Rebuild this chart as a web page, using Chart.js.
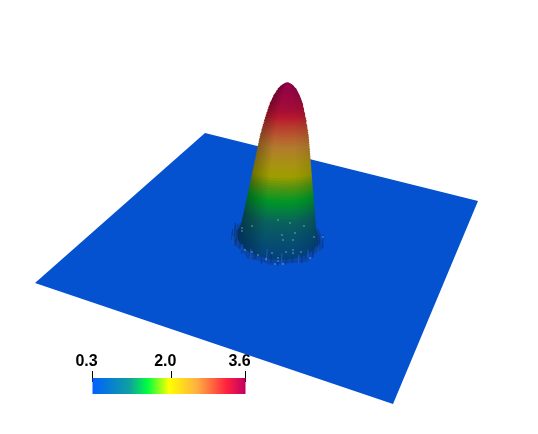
<!DOCTYPE html>
<html>
<head>
<meta charset="utf-8">
<style>
  html, body { margin: 0; padding: 0; background: #fff; }
  canvas { display: block; }
</style>
<script src="https://cdn.jsdelivr.net/npm/chart.js@4/dist/chart.umd.min.js"></script>
</head>
<body>
<canvas id="surfaceChart" width="538" height="434"></canvas>
<script>
// colour bar
const tickValues = [0.3, 2.0, 3.6];
const tickLabels = ['0.3', '2.0', '3.6'];
const paletteValues = [0.3, 1.1, 1.49, 1.95, 2.55, 3.2, 3.6];
const paletteColors = [[0, 96, 255], [16, 160, 160], [0, 255, 64], [255, 255, 0], [255, 176, 64], [255, 32, 64], [192, 0, 96]];

// surface heights and radii of the bump (top to bottom)
const bumpLevels = [3.6, 3.58, 3.55, 3.52, 3.5, 3.45, 3.4, 3.35, 3.3, 3.25, 3.2, 3.15, 3.1, 3.05, 3.0, 2.95, 2.9, 2.85, 2.8, 2.75, 2.7, 2.65, 2.6, 2.55, 2.5, 2.45, 2.4, 2.35, 2.3, 2.25, 2.2, 2.15, 2.1, 2.05, 2.0, 1.95, 1.9, 1.85, 1.8, 1.75, 1.7, 1.65, 1.6, 1.55, 1.5, 1.45, 1.4, 1.35, 1.3, 1.25, 1.2, 1.15, 1.1, 1.05, 1.0, 0.95, 0.9, 0.85, 0.8, 0.75, 0.7, 0.65, 0.6, 0.55, 0.5, 0.45, 0.4, 0.35];
const bumpRadius = [0.002, 0.008, 0.014, 0.019, 0.022, 0.029, 0.033, 0.037, 0.041, 0.044, 0.047, 0.05, 0.052, 0.054, 0.056, 0.058, 0.06, 0.062, 0.064, 0.065, 0.067, 0.068, 0.07, 0.071, 0.073, 0.074, 0.075, 0.076, 0.077, 0.078, 0.079, 0.08, 0.081, 0.082, 0.083, 0.084, 0.085, 0.086, 0.087, 0.088, 0.089, 0.09, 0.091, 0.092, 0.093, 0.094, 0.095, 0.096, 0.097, 0.098, 0.099, 0.1, 0.101, 0.102, 0.103, 0.104, 0.105, 0.106, 0.107, 0.108, 0.109, 0.11, 0.111, 0.112, 0.113, 0.115, 0.118, 0.122];

// ragged foot of the bump
const rimRadius = [0.137, 0.128, 0.141, 0.131, 0.126, 0.138, 0.13, 0.142, 0.127, 0.135, 0.14, 0.129, 0.143, 0.133, 0.127, 0.139, 0.131, 0.136, 0.128, 0.14, 0.132, 0.137, 0.126, 0.134];
const darkSpikeAngles = [-0.32, -0.2, -0.08, 0.06, 0.2, 0.34, 0.5, 0.66, 0.84, 1.0, 1.18, 1.34, 1.52, 1.7, 1.88, 2.06, 2.22, 2.38, 2.52, 2.64, 2.74];
const darkSpikeHeights = [0.16, 0.24, 0.12, 0.2, 0.1, 0.16, 0.1, 0.16, 0.1, 0.14, 0.12, 0.18, 0.1, 0.14, 0.12, 0.16, 0.2, 0.16, 0.26, 0.2, 0.28];
const lightSpikeAngles = [0.12, 0.42, 0.74, 1.1, 1.44, 1.8, 2.14, 2.46];
const lightSpikeHeights = [0.12, 0.16, 0.2, 0.22, 0.26, 0.2, 0.14, 0.16];

// bright holes in the mesh
const speckX = [242, 242, 252, 282, 283, 293, 286, 293, 301, 278, 272, 245, 252, 258, 295, 304, 290, 278, 323, 310, 314, 266, 283, 275, 293, 278];
const speckY = [228, 231, 226, 235, 240, 240, 252, 250, 252, 258, 253, 250, 252, 255, 233, 226, 223, 220, 237, 258, 237, 259, 264, 264, 253, 261];

// square to quad mapping for the flat sheet, u and v run from 0 to 1
function makeProjection(p0, p1, p2, p3) {
  const dx1 = p1[0] - p2[0], dx2 = p3[0] - p2[0], sx = p0[0] - p1[0] + p2[0] - p3[0];
  const dy1 = p1[1] - p2[1], dy2 = p3[1] - p2[1], sy = p0[1] - p1[1] + p2[1] - p3[1];
  const det = dx1 * dy2 - dx2 * dy1;
  const g = (sx * dy2 - dx2 * sy) / det, h = (dx1 * sy - sx * dy1) / det;
  const a = p1[0] - p0[0] + g * p1[0], b = p3[0] - p0[0] + h * p3[0];
  const d = p1[1] - p0[1] + g * p1[1], e = p3[1] - p0[1] + h * p3[1];
  return (u, v, level) => {
    const w = g * u + h * v + 1;
    const lift = level - 0.3;
    return {
      x: (a * u + b * v + p0[0]) / w + 3.0 * lift,
      y: (d * u + e * v + p0[1]) / w - 47 * lift
    };
  };
}
const project = makeProjection([205, 133], [478, 201], [393, 404], [35, 283]);

function colorAt(value) {
  let i = 0;
  while (i < paletteValues.length - 2 && value > paletteValues[i + 1]) i++;
  const t = Math.max(0, Math.min(1, (value - paletteValues[i]) / (paletteValues[i + 1] - paletteValues[i])));
  return paletteColors[i].map((c, k) => c + (paletteColors[i + 1][k] - c) * t);
}
function rgb(c, f) {
  return 'rgb(' + c.map(n => Math.round(n * f)).join(',') + ')';
}
// piecewise lookup over level for shading and ring flattening
function lookup(level, levels, values) {
  let i = 0;
  while (i < levels.length - 2 && level > levels[i + 1]) i++;
  const t = Math.max(0, Math.min(1, (level - levels[i]) / (levels[i + 1] - levels[i])));
  return values[i] + (values[i + 1] - values[i]) * t;
}
const lightLevels = [0.35, 1.0, 1.5, 1.95, 2.5, 3.2, 3.6];
const lightFactor = [0.56, 0.6, 0.58, 0.66, 0.72, 0.72, 0.76];

const ringSteps = [];
for (let i = 0; i < 48; i++) ringSteps.push(i / 48 * Math.PI * 2);

function ring(level, radius) {
  const mid = project(0.5, 0.5, level);
  const flat = lookup(level, [0.35, 1.0, 1.7, 2.8, 3.6], [1, 0.55, 0.35, 0.35, 1]);
  return ringSteps.map(a => {
    const p = project(0.5 + radius * Math.cos(a), 0.5 + radius * Math.sin(a), level);
    return { x: p.x, y: mid.y + (p.y - mid.y) * flat };
  });
}

function shape(label, data, color, extra) {
  return Object.assign({
    label: label, type: 'line', data: data, fill: 'shape',
    backgroundColor: color, borderWidth: 0, borderColor: 'transparent',
    pointRadius: 0, tension: 0
  }, extra || {});
}

function spikes(label, angles, heights, color, width) {
  const data = [];
  angles.forEach((a, i) => {
    const r = rimRadius[i] * 0.98;
    data.push(project(0.5 + r * Math.cos(a), 0.5 + r * Math.sin(a), 0.3));
    data.push(project(0.5 + r * Math.cos(a), 0.5 + r * Math.sin(a), 0.3 + heights[i]));
    data.push({ x: null, y: null });
  });
  return {
    label: label, type: 'line', data: data, borderColor: color, borderWidth: width,
    pointRadius: 0, spanGaps: false, fill: false
  };
}

const datasets = [];

// flat sheet
datasets.push(shape('sheet', [[0, 0], [1, 0], [1, 1], [0, 1]].map(p => project(p[0], p[1], 0.3)), '#0452cf'));

// ragged foot
datasets.push(shape('foot', rimRadius.map((r, i) => {
  const a = i / rimRadius.length * Math.PI * 2;
  return project(0.5 + r * Math.cos(a), 0.5 + r * Math.sin(a), 0.3);
}), '#0a46a8'));

// bump, painted from the bottom up
for (let i = bumpLevels.length - 1; i >= 0; i--) {
  const level = bumpLevels[i];
  const pts = ring(level, bumpRadius[i]);
  const col = colorAt(level + 0.25 * Math.min(1, (3.6 - level) / 0.5));
  const lit = lookup(level, lightLevels, lightFactor);
  datasets.push(shape('level ' + level, pts, c => {
    if (!c.chart.chartArea) return rgb(col, lit);
    const xs = c.chart.scales.x;
    const x0 = Math.min(...pts.map(p => p.x)), x1 = Math.max(...pts.map(p => p.x));
    const g = c.chart.ctx.createLinearGradient(xs.getPixelForValue(x0), 0, xs.getPixelForValue(x1) + 0.01, 0);
    g.addColorStop(0, rgb(col, lit * 0.72));
    g.addColorStop(0.3, rgb(col, lit));
    g.addColorStop(0.7, rgb(col, lit));
    g.addColorStop(1, rgb(col, lit * 0.9));
    return g;
  }));
}

// streaks around the front of the foot
datasets.push(spikes('dark spikes', darkSpikeAngles, darkSpikeHeights, '#0a3580', 1));
datasets.push(spikes('light spikes', lightSpikeAngles, lightSpikeHeights, '#1a5cc0', 1));

datasets.push({
  label: 'specks', type: 'scatter', data: speckX.map((x, i) => ({ x: x, y: speckY[i] })),
  pointStyle: 'rect', pointRadius: 0.8, pointBorderWidth: 0, backgroundColor: '#c4d6ee', borderWidth: 0
});

// colour bar on its own value axis
datasets.push(shape('bar', [
  { x: tickValues[0], y: 378 }, { x: tickValues[2], y: 378 }, { x: tickValues[2], y: 394 }, { x: tickValues[0], y: 394 }
], c => {
  if (!c.chart.chartArea) return '#0060ff';
  const s = c.chart.scales.cb;
  const g = c.chart.ctx.createLinearGradient(s.getPixelForValue(0.3), 0, s.getPixelForValue(3.6), 0);
  paletteValues.forEach((v, i) => g.addColorStop(Math.min(1, (v - 0.3) / 3.3), rgb(paletteColors[i], 1)));
  return g;
}, { xAxisID: 'cb' }));

datasets.forEach((d, i) => { d.order = datasets.length - i; });

new Chart(document.getElementById('surfaceChart'), {
  data: { datasets: datasets },
  options: {
    responsive: false,
    animation: false,
    events: [],
    layout: { padding: 0, autoPadding: false },
    plugins: { legend: { display: false }, tooltip: { enabled: false } },
    scales: {
      x: { type: 'linear', display: false, min: 0, max: 538 },
      y: { type: 'linear', display: false, min: 0, max: 434, reverse: true },
      cb: {
        type: 'linear',
        axis: 'x',
        position: { y: 371 },
        min: 0.3 - 92.5 * 3.3 / 153,
        max: 0.3 + (538 - 92.5) * 3.3 / 153,
        afterBuildTicks: s => { s.ticks = tickValues.map(v => ({ value: v })); },
        border: { display: false },
        grid: { drawOnChartArea: false, drawTicks: true, tickLength: 11, tickColor: '#000', tickWidth: 1 },
        ticks: {
          color: '#000',
          font: { family: '"Liberation Sans"', size: 16, weight: 'bold' },
          padding: -30,
          labelOffset: -6,
          maxRotation: 0,
          autoSkip: false,
          callback: v => tickLabels[tickValues.indexOf(v)]
        }
      }
    }
  }
});
</script>
</body>
</html>
